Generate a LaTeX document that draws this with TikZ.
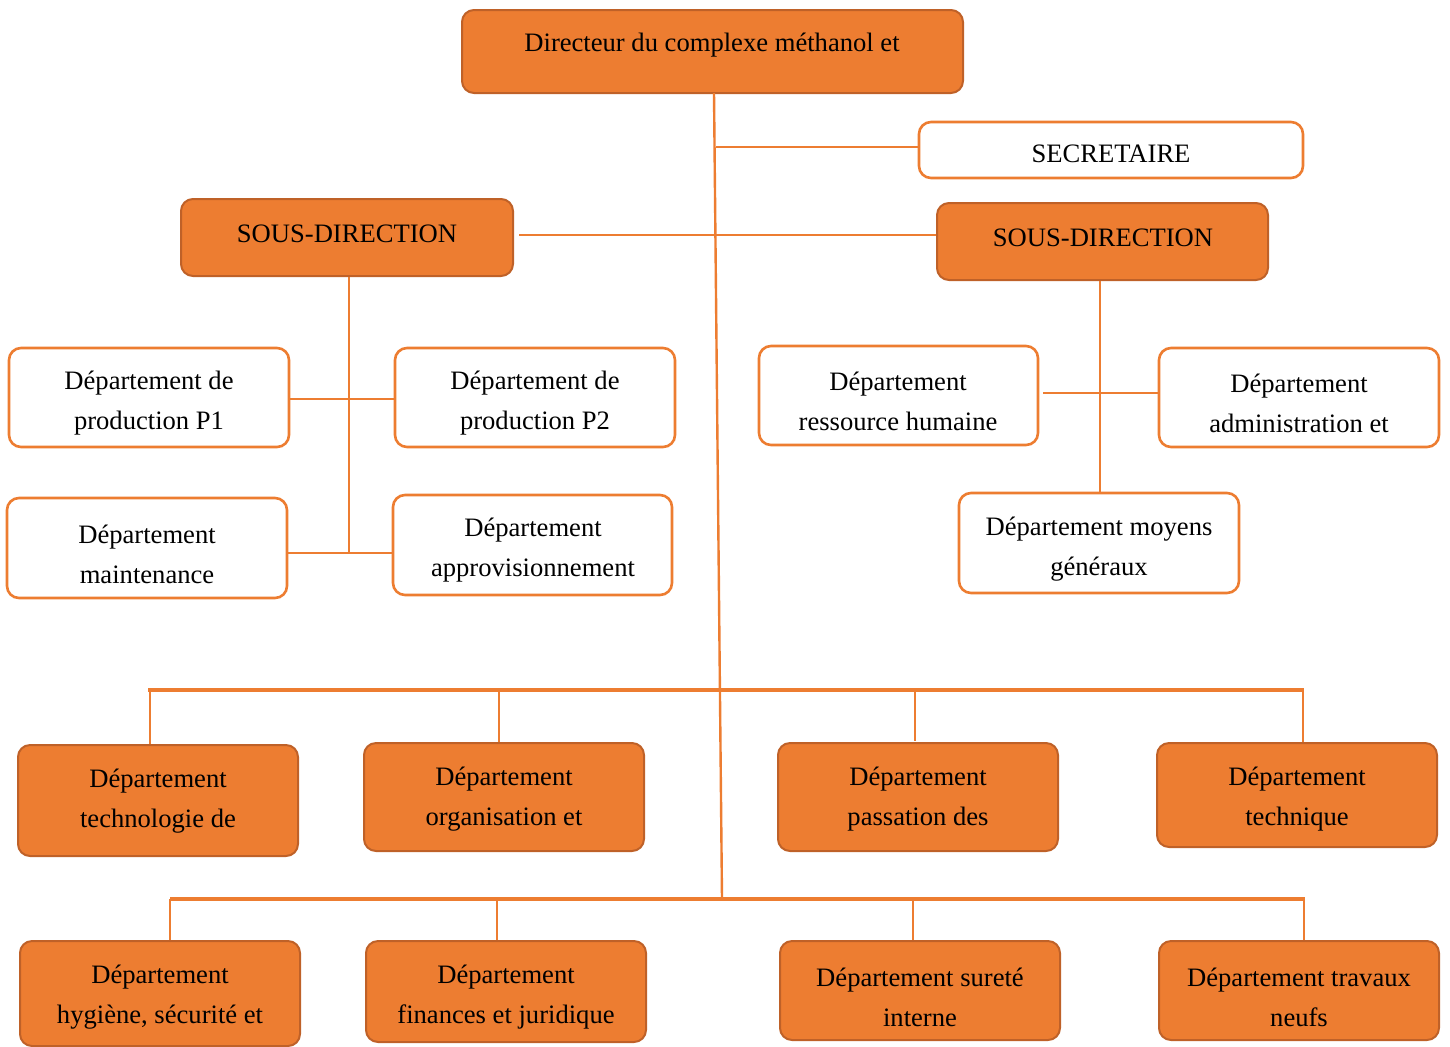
\documentclass[tikz,border=0pt]{standalone}
\usepackage{fontspec}
\setmainfont{Liberation Serif}
\usetikzlibrary{fit}
\definecolor{orgfill}{HTML}{ED7D31}
\definecolor{orgedge}{HTML}{BF6128}
\begin{document}
\begin{tikzpicture}[x=0.5pt,y=-0.5pt,
  every node/.style={font=\fontsize{13.3}{20}\selectfont, align=center, inner sep=0pt},
  obox/.style={draw=orgedge, line width=1pt, fill=orgfill, rounded corners=6pt},
  wbox/.style={draw=orgfill, line width=1.3pt, fill=white, rounded corners=6pt},
  link/.style={draw=orgfill, line width=1.2pt},
  bus/.style={draw=orgfill, line width=1.7pt},
  lbl/.style={fill=none, draw=none}]
\useasboundingbox (0,0) rectangle (1450,1046);

% top level
\node[obox, fit={(462,10) (963,93)}] (dir) {};
\node[lbl] (dirtext) at (712,45) {Directeur du complexe méthanol et};
\node[wbox, fit={(919,122) (1303,178)}] (sec) {};
\node[lbl] (sectext) at (1111,154) {SECRETAIRE};

% sub-directions
\node[obox, fit={(181,199) (513,276)}] (sdl) {};
\node[lbl] (sdltext) at (347,234) {SOUS-DIRECTION};
\node[obox, fit={(937,203) (1268,280)}] (sdr) {};
\node[lbl] (sdrtext) at (1103,238) {SOUS-DIRECTION};

% left sub-direction departments
\node[wbox, fit={(9,348) (289,447)}] (p1) {};
\node[lbl] (p1t) at (149,403) {Département de\\production P1};
\node[wbox, fit={(395,348) (675,447)}] (p2) {};
\node[lbl] (p2t) at (535,403) {Département de\\production P2};
\node[wbox, fit={(7,498) (287,598)}] (mnt) {};
\node[lbl] (mntt) at (147,554) {Département\\maintenance};
\node[wbox, fit={(393,495) (672,595)}] (app) {};
\node[lbl] (appt) at (533,550) {Département\\approvisionnement};

% right sub-direction departments
\node[wbox, fit={(759,346) (1038,445)}] (rh) {};
\node[lbl] (rht) at (898,401) {Département\\ressource humaine};
\node[wbox, fit={(1159,348) (1439,447)}] (adm) {};
\node[lbl] (admt) at (1299,403) {Département\\administration et};
\node[wbox, fit={(959,493) (1239,593)}] (mg) {};
\node[lbl] (mgt) at (1099,549) {Département moyens\\généraux};

% departments attached to the director, first row
\node[obox, fit={(18,745) (298,856)}] (tec) {};
\node[lbl] (tect) at (158,801) {Département\\technologie de};
\node[obox, fit={(364,743) (644,851)}] (org) {};
\node[lbl] (orgt) at (504,799) {Département\\organisation et};
\node[obox, fit={(778,743) (1058,851)}] (pas) {};
\node[lbl] (past) at (918,799) {Département\\passation des};
\node[obox, fit={(1157,743) (1437,847)}] (tq) {};
\node[lbl] (tqt) at (1297,799) {Département\\technique};

% second row
\node[obox, fit={(20,941) (300,1046)}] (hyg) {};
\node[lbl] (hygt) at (160,997) {Département\\hygiène, sécurité et};
\node[obox, fit={(366,941) (646,1042)}] (fin) {};
\node[lbl] (fint) at (506,997) {Département\\finances et juridique};
\node[obox, fit={(780,941) (1060,1040)}] (sur) {};
\node[lbl] (surt) at (920,997) {Département sureté\\interne};
\node[obox, fit={(1159,941) (1439,1040)}] (trv) {};
\node[lbl] (trvt) at (1299,997) {Département travaux\\neufs};

% junction points
\coordinate (spineTop) at (714,93);
\coordinate (spineBot) at (722,899);
\coordinate (jSec) at (716,147);
\coordinate (jSd) at (717,235);
\coordinate (busAl) at (148,690);
\coordinate (busAr) at (1304,690);
\coordinate (busBl) at (170,899);
\coordinate (busBr) at (1305,899);
\coordinate (sdlBot) at (349,553);
\coordinate (sdrBot) at (1100,493);

% main spine
\draw[link] (spineTop) -- (spineBot);
\draw[link] (jSec) -- (sec.west |- jSec);
\draw[link] (519,235) -- (sdr.west |- jSd);

% left sub-direction tree
\draw[link] (sdl.south -| sdlBot) -- (sdlBot);
\draw[link] (p1.east |- 0,399) -- (p2.west |- 0,399);
\draw[link] (mnt.east |- 0,553) -- (app.west |- 0,553);

% right sub-direction tree
\draw[link] (sdr.south -| sdrBot) -- (mg.north -| sdrBot);
\draw[link] (1043,393) -- (adm.west |- 0,393);

% first bus
\draw[bus] (busAl) -- (busAr);
\draw[link] (150,690) -- (tec.north -| 150,0);
\draw[link] (499,690) -- (org.north -| 499,0);
\draw[link] (915,690) -- (915,741);
\draw[link] (1303,690) -- (tq.north -| 1303,0);

% second bus
\draw[bus] (busBl) -- (busBr);
\draw[link] (170,899) -- (hyg.north -| 170,0);
\draw[link] (497,899) -- (fin.north -| 497,0);
\draw[link] (913,899) -- (sur.north -| 913,0);
\draw[link] (1304,899) -- (trv.north -| 1304,0);
\end{tikzpicture}
\end{document}
